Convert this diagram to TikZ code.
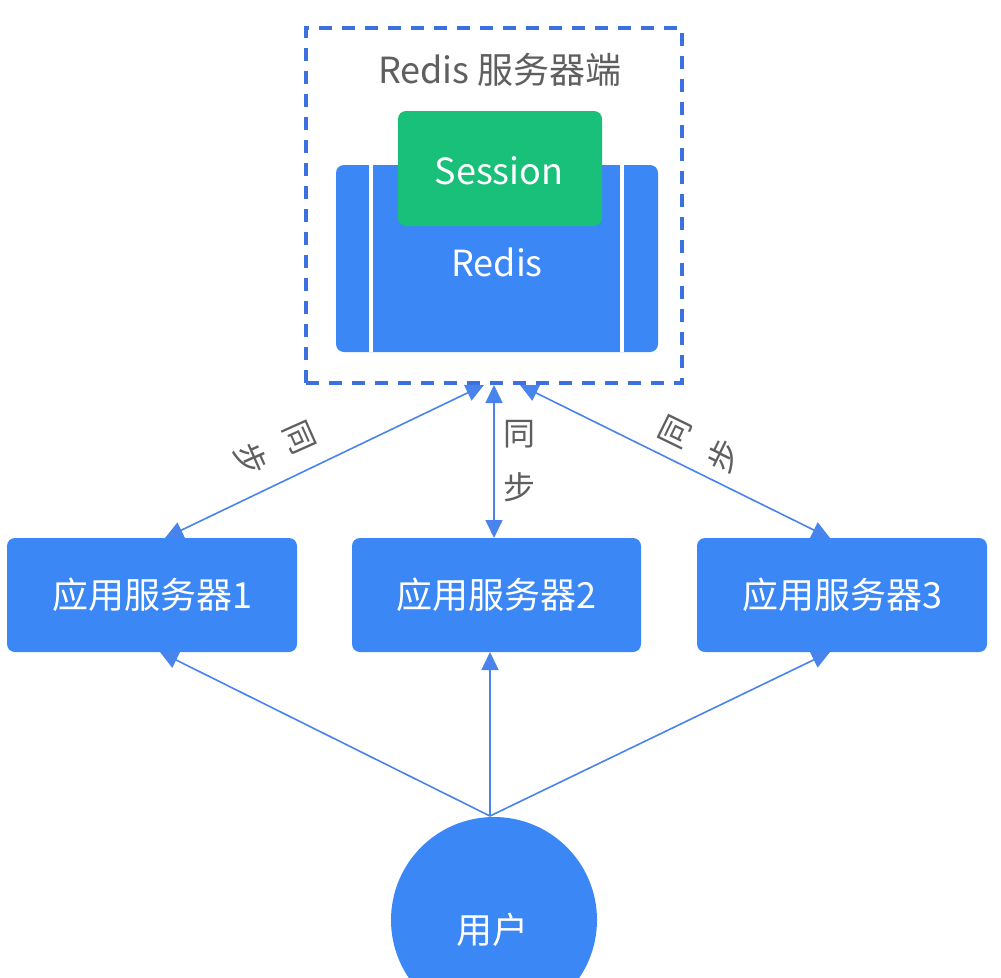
\documentclass[tikz,border=0pt]{standalone}
\usepackage{fontspec}
\setmainfont{Noto Sans CJK SC}
\usetikzlibrary{arrows.meta}
\definecolor{boxblue}{RGB}{59,135,245}
\definecolor{dashblue}{RGB}{60,112,222}
\definecolor{linkblue}{RGB}{72,132,236}
\definecolor{sessgreen}{RGB}{24,192,122}
\definecolor{txtgray}{RGB}{95,95,95}
\tikzset{
  bluebox/.style={fill=boxblue, draw=none, rounded corners=8pt, text=white, font=\fontsize{36}{40}\selectfont, inner sep=0pt},
  link/.style={draw=linkblue, line width=1.6pt, -{Triangle[length=18pt,width=17pt]}},
  biline/.style={draw=linkblue, line width=1.6pt, {Triangle[length=18pt,width=17pt]}-{Triangle[length=18pt,width=17pt]}},
  synclabel/.style={text=txtgray, font=\fontsize{32}{54}\selectfont, align=center, inner sep=0pt}
}
\begin{document}
\begin{tikzpicture}[x=1pt,y=-1pt]
\useasboundingbox (0,0) rectangle (1001,977);
\clip (0,0) rectangle (1001,977);
\fill[white] (0,0) rectangle (1001,977);

% Redis server dashed container
\node[draw=dashblue, line width=3.5pt, dash pattern=on 13pt off 10pt, minimum width=376pt, minimum height=355pt, inner sep=0pt] (server) at (494,205.5) {};
\node[text=txtgray, font=\fontsize{36}{40}\selectfont, inner sep=0pt] (servertitle) at (500,70) {Redis 服务器端};

% Redis block
\node[bluebox, minimum width=322pt, minimum height=187pt] (redis) at (497,258.5) {};
\node[text=white, font=\fontsize{36}{40}\selectfont, inner sep=0pt] (redislabel) at (497,262) {Redis};
\draw[white, line width=4pt] (371,165) -- (371,352);
\draw[white, line width=4pt] (622,165) -- (622,352);

% Session block
\node[fill=sessgreen, rounded corners=8pt, minimum width=204pt, minimum height=115pt, inner sep=0pt] (session) at (500,168.5) {};
\node[text=white, font=\fontsize{36}{40}\selectfont, inner sep=0pt] (sessionlabel) at (499,171) {Session};

% application servers
\node[bluebox, minimum width=290pt, minimum height=114pt] (app1) at (152,595) {应用服务器1};
\node[bluebox, minimum width=289pt, minimum height=114pt] (app2) at (496.5,595) {应用服务器2};
\node[bluebox, minimum width=290pt, minimum height=114pt] (app3) at (842,595) {应用服务器3};

% user
\node[circle, fill=boxblue, minimum size=206pt, inner sep=0pt] (user) at (494,920) {};
\node[text=white, font=\fontsize{36}{40}\selectfont, inner sep=0pt] (userlabel) at (492,930) {用户};

% connector end points
\coordinate (sL) at (484,385);
\coordinate (sM) at (494,385);
\coordinate (sR) at (520,385);
\coordinate (a1t) at (165,538);
\coordinate (a2t) at (494,538);
\coordinate (a3t) at (830,538);
\coordinate (a1b) at (160,652);
\coordinate (a2b) at (490,652);
\coordinate (a3b) at (830,652);
\coordinate (ut) at (490,816);

% sync arrows
\draw[biline] (a1t) -- (sL);
\draw[biline] (a2t) -- (sM);
\draw[biline] (a3t) -- (sR);

% user arrows
\draw[link] (ut) -- (a1b);
\draw[link] (ut) -- (a2b);
\draw[link] (ut) -- (a3b);

% labels
\node[synclabel] (lblM) at (519,461) {同\\步};
\node[synclabel, rotate=-66] (lblL) at (275,448) {同\\步};
\node[synclabel, rotate=64] (lblR) at (700,444) {同\\步};
\end{tikzpicture}
\end{document}
